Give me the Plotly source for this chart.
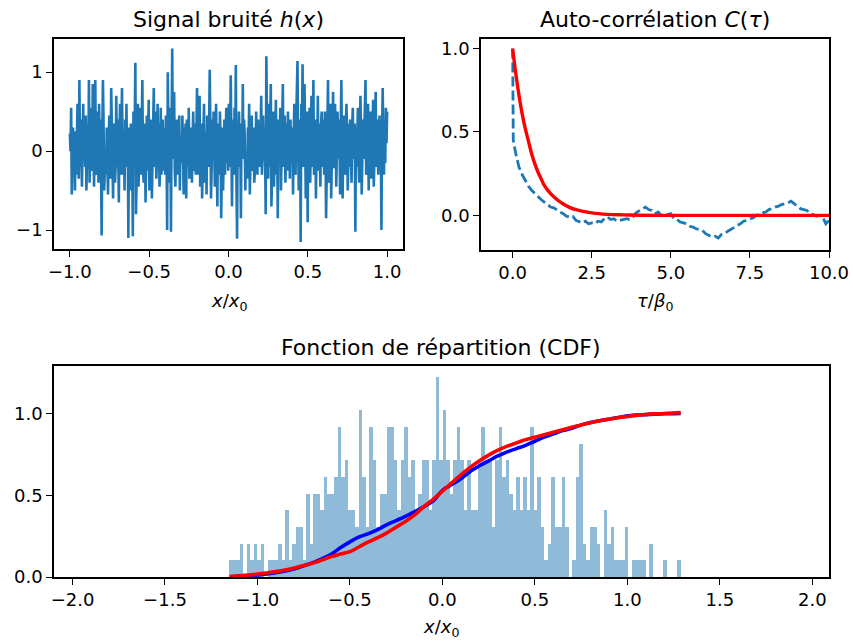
import numpy as np
import plotly.graph_objects as go

# --- signal bruité h(x), x de -1 à 1 ---
signal_h = [
    0.22, 0.0, 0.55, -0.55, -0.1, 0.3, -0.2, 0.1, -0.5, 0.25,
    -0.3, 0.35, 0.6, -0.15, -0.35, 0.9, -0.2, 0.4, -0.35, -0.45,
    0.1, 0.6, -0.1, 0.3, -0.2, 0.45, -0.5, 0.0, 0.35, -0.1,
    0.9, -0.4, 0.3, 0.55, -0.25, -0.2, 0.85, 0.4, -0.45, 0.25,
    0.9, -0.2, -0.3, 0.5, 0.3, -0.4, 0.6, -0.1, 0.4, -0.2,
    -1.07, 0.2, 0.9, 0.35, -0.5, -0.25, 0.0, -0.3, 0.3, -0.1,
    -0.55, 0.1, 0.45, -0.2, -0.35, 0.8, 0.2, -0.35, -0.6, 0.35,
    0.05, -0.4, -0.2, 0.7, -0.2, 0.4, 0.1, -0.65, 0.25, 0.6,
    -0.3, 0.45, 0.8, -0.1, -0.3, 0.25, -0.5, 0.4, 0.0, 0.6,
    -0.2, 0.3, -1.1, 0.3, -0.1, -0.5, 0.35, -0.2, 0.15, -1.08,
    0.5, -0.2, 0.3, 1.12, -0.8, -0.1, 0.3, 0.6, -0.45, -0.2,
    0.1, 0.55, -0.3, 0.25, 0.9, -0.2, -0.4, 0.1, 0.35, -0.65,
    -0.15, 0.45, -0.25, 0.3, 0.65, -0.5, 0.2, 0.0, 0.4, -0.6,
    -0.1, 0.3, 0.8, -0.2, 0.5, 0.15, -0.35, -0.1, 0.6, -0.1,
    0.35, -0.45, -0.2, 0.55, -0.3, 0.0, 0.4, -0.25, 0.3, -0.1,
    -0.3, 0.45, 0.1, -1.0, 1.0, 0.2, -0.4, -0.3, 0.55, -1.02,
    0.3, 1.3, -0.1, 0.2, 0.75, -0.25, -0.45, 0.1, 0.4, -0.3,
    0.25, -0.1, 0.45, -0.5, 0.2, 0.0, -0.15, 0.45, -0.15, -0.55,
    0.3, 0.05, 0.35, -0.6, 0.4, -0.1, -0.2, 0.55, -0.35, 0.2,
    -0.1, 0.3, -0.4, 0.15, 0.5, -0.25, -0.1, 0.35, -0.3, 0.2,
    0.8, -0.3, 0.2, -0.05, 0.7, -0.45, 0.1, 0.35, -0.6, -0.1,
    0.25, 0.6, -0.4, 0.0, 0.25, -0.55, 0.45, -0.1, -0.2, 0.3,
    1.03, 0.3, -0.6, -0.2, 0.4, -0.1, 0.5, 0.05, -0.45, 0.2,
    0.6, -0.2, -0.7, 0.35, -0.1, -0.3, 0.5, 0.2, -0.85, 0.15,
    0.3, -0.5, -0.1, 0.4, -0.3, 0.2, 0.55, -0.15, 0.35, -0.25,
    0.6, -0.2, 0.1, 0.96, -0.1, -0.7, 0.2, 0.4, -0.3, 0.55,
    -0.1, 1.09, -0.4, -1.11, 0.3, 0.1, 0.5, -0.2, 0.25, -0.85,
    0.35, -0.1, 0.85, -0.1, 0.4, 0.2, -0.5, 0.0, -0.2, -0.35,
    0.3, 0.05, 0.6, -0.55, -0.15, 0.3, 0.45, -0.25, 0.1, 0.3,
    -0.4, -0.2, -0.1, 0.5, 0.25, -0.3, 0.4, 0.0, 0.3, -0.2,
    0.2, 0.7, -0.3, -0.1, 0.45, -0.1, 0.3, 0.0, -0.8, 1.2,
    0.4, 0.1, -0.35, 0.6, -0.2, 0.3, 0.85, -0.7, -0.1, 0.3,
    0.5, -0.45, 0.2, -0.05, 0.65, -0.3, 0.2, -0.85, 0.4, -0.1,
    0.3, 0.55, -0.5, -0.1, 0.3, 0.85, -0.2, 0.2, 0.45, -0.4,
    -0.1, 0.35, -0.25, 0.5, 0.0, 0.25, -0.35, 0.4, -0.1, -0.15,
    0.3, -0.55, 0.2, 0.6, -0.2, -0.3, 0.4, 0.8, 1.14, 0.1,
    -0.5, -0.2, 0.4, -1.15, 0.6, 0.2, 1.1, -0.2, 0.5, 0.85,
    0.3, -0.6, -0.1, 0.5, -0.9, 0.25, -0.1, 0.55, -0.4, 0.3,
    0.7, 0.1, -0.2, 0.9, -0.3, -0.2, 0.4, -0.6, 0.1, -0.2,
    0.7, -0.25, 0.35, 0.05, -0.45, 0.3, 0.5, -0.1, -0.2, 0.4,
    -0.3, 0.5, 0.1, -0.85, -0.2, 0.3, 0.9, -0.4, -0.1, 0.35,
    0.6, -0.6, 0.1, 0.3, 0.75, -0.2, -0.2, 0.6, 0.3, -0.45,
    -0.1, 0.5, -0.1, 0.4, 0.2, -0.55, 0.3, 0.9, -0.2, -0.6,
    0.1, 0.45, -0.1, -0.3, 0.3, 0.6, 0.25, -0.5, -0.1, 0.35,
    -0.2, 0.4, 0.0, -0.4, 0.3, 0.55, -0.1, 0.2, 0.35, -1.02,
    0.3, -0.2, 0.1, 0.55, -0.1, -0.4, 0.2, 0.7, 0.2, -0.55,
    -0.1, 0.4, -0.1, 0.3, 0.6, 0.9, -0.3, -0.2, 0.45, 0.6,
    -0.5, 0.2, -0.1, 0.5, -0.35, 0.1, 0.3, 0.65, -0.45, -0.1,
    0.3, 0.75, -0.2, 0.2, 0.4, -0.3, -0.1, 0.45, -0.2, 0.3,
    -1.0, 0.2, 0.8, 0.1, -0.3, 0.4, -0.15, 0.55, 0.1, 0.5,
]
x_signal = np.linspace(-1.0, 1.0, len(signal_h))

# --- auto-corrélation mesurée (tirets) et modèle (rouge) ---
tau_mes = [0.0, 0.02, 0.1, 0.2, 0.3, 0.4, 0.5, 0.6, 0.7, 0.8, 0.9,
           1.0, 1.1, 1.2, 1.3, 1.4, 1.5, 1.6, 1.7, 1.8, 1.9,
           2.0, 2.1, 2.2, 2.3, 2.4, 2.5, 2.6, 2.7, 2.8, 2.9,
           3.0, 3.1, 3.2, 3.3, 3.4, 3.5, 3.6, 3.7, 3.8, 3.9,
           4.0, 4.1, 4.2, 4.3, 4.4, 4.5, 4.6, 4.7, 4.8, 4.9,
           5.0, 5.1, 5.2, 5.3, 5.4, 5.5, 5.6, 5.7, 5.8, 5.9,
           6.0, 6.1, 6.2, 6.3, 6.4, 6.5, 6.6, 6.7, 6.8, 6.9,
           7.0, 7.1, 7.2, 7.3, 7.4, 7.5, 7.6, 7.7, 7.8, 7.9,
           8.0, 8.1, 8.2, 8.3, 8.4, 8.5, 8.6, 8.7, 8.8, 8.9,
           9.0, 9.1, 9.2, 9.3, 9.4, 9.5, 9.6, 9.7, 9.8, 9.9, 10.0]
corr_mes = [1.0, 0.45, 0.37, 0.29, 0.245, 0.205, 0.175, 0.15, 0.13, 0.11, 0.095,
            0.08, 0.065, 0.05, 0.045, 0.03, 0.02, 0.01, -0.005, -0.01, -0.005,
            -0.03, -0.04, -0.045, -0.035, -0.05, -0.045, -0.05, -0.035, -0.04, -0.02,
            -0.01, -0.025, -0.02, -0.035, -0.03, -0.025, -0.02, -0.025, -0.01, 0.015,
            0.03, 0.04, 0.05, 0.035, 0.03, 0.01, 0.02, 0.0, 0.01, 0.005,
            0.01, -0.02, -0.025, -0.04, -0.045, -0.05, -0.065, -0.07, -0.08, -0.085,
            -0.09, -0.11, -0.12, -0.13, -0.125, -0.135, -0.115, -0.11, -0.095, -0.085,
            -0.07, -0.06, -0.05, -0.035, -0.03, -0.02, -0.015, 0.0, 0.005, 0.015,
            0.02, 0.035, 0.04, 0.05, 0.055, 0.065, 0.07, 0.075, 0.085, 0.07,
            0.06, 0.04, 0.035, 0.03, 0.01, 0.005, -0.005, 0.0, -0.01, -0.05, -0.03]
tau_mod = [0.0, 0.1, 0.2, 0.3, 0.4, 0.5, 0.6, 0.7, 0.8, 0.9, 1.0, 1.2, 1.4,
           1.6, 1.8, 2.0, 2.5, 3.0, 3.5, 4.0, 5.0, 6.0, 7.0, 8.0, 9.0, 10.0]
corr_mod = [1.0, 0.85, 0.72, 0.61, 0.52, 0.445, 0.37, 0.31, 0.26, 0.22, 0.18, 0.13, 0.095,
            0.068, 0.048, 0.034, 0.015, 0.006, 0.003, 0.001, 0.0, 0.0, 0.0, 0.0, 0.0, 0.0]

# --- histogramme (comptes par classe) et fonctions de répartition ---
hist_min, hist_max = -1.153, 1.288
hist_counts = [
    1, 1, 1, 2, 0, 2, 1, 2, 1, 2, 0, 1, 1, 1, 2, 1, 4, 1, 2, 3,
    3, 1, 5, 2, 5, 5, 4, 6, 5, 5, 6, 9, 6, 7, 4, 4, 3, 10, 6, 3,
    9, 7, 3, 5, 5, 9, 9, 7, 4, 7, 9, 6, 7, 4, 5, 7, 7, 4, 7, 12,
    7, 10, 7, 5, 7, 9, 7, 4, 7, 4, 4, 7, 9, 7, 7, 3, 7, 9, 6, 7,
    5, 4, 6, 4, 6, 4, 9, 4, 6, 3, 1, 2, 6, 3, 3, 6, 3, 0, 1, 6,
    8, 2, 1, 3, 3, 2, 0, 4, 2, 3, 1, 1, 1, 3, 0, 1, 1, 1, 1, 0,
    2, 0, 0, 0, 1, 0, 0, 0, 1,
]
cdf_x = [-1.15, -1.1, -1.05, -1.0, -0.95, -0.9, -0.85, -0.8, -0.75, -0.7, -0.65,
         -0.6, -0.55, -0.5, -0.45, -0.4, -0.35, -0.3, -0.25, -0.2, -0.15, -0.1,
         -0.05, 0.0, 0.05, 0.1, 0.15, 0.2, 0.25, 0.3, 0.35, 0.4, 0.45, 0.5,
         0.55, 0.6, 0.65, 0.7, 0.75, 0.8, 0.85, 0.9, 0.95, 1.0, 1.05, 1.1,
         1.15, 1.2, 1.25, 1.288]
cdf_emp = [0.0, 0.004, 0.008, 0.013, 0.018, 0.026, 0.036, 0.05, 0.068, 0.088, 0.112,
           0.14, 0.18, 0.215, 0.245, 0.265, 0.29, 0.32, 0.345, 0.37, 0.40, 0.43,
           0.465, 0.53, 0.565, 0.60, 0.645, 0.68, 0.71, 0.74, 0.765, 0.785, 0.805, 0.83,
           0.855, 0.875, 0.895, 0.91, 0.93, 0.945, 0.955, 0.965, 0.975, 0.985, 0.99, 0.993,
           0.996, 0.998, 0.999, 1.0]
cdf_mod = [0.003, 0.007, 0.012, 0.018, 0.025, 0.033, 0.043, 0.055, 0.07, 0.085, 0.105,
           0.125, 0.14, 0.155, 0.185, 0.215, 0.24, 0.27, 0.305, 0.34, 0.38, 0.43,
           0.475, 0.525, 0.575, 0.625, 0.67, 0.71, 0.745, 0.775, 0.80, 0.82, 0.84, 0.855,
           0.87, 0.885, 0.9, 0.915, 0.93, 0.943, 0.955, 0.965, 0.974, 0.982, 0.988, 0.993,
           0.997, 1.0, 1.003, 1.005]

W, H = 853, 641
C0 = "#1f77b4"
FONT = "DejaVu Sans"
MINUS = "\u2212"


def px_x(p):
    return p / W


def px_y(p):
    return 1 - p / H


def fmt(v, nd):
    s = f"{abs(v):.{nd}f}"
    return (MINUS + s) if v < 0 else s


bw = (hist_max - hist_min) / len(hist_counts)
edges = hist_min + bw * np.arange(len(hist_counts))
density = np.array(hist_counts) / (sum(hist_counts) * bw)

fig = go.Figure()
fig.add_trace(go.Scatter(x=x_signal, y=signal_h, mode="lines",
                         line=dict(color=C0, width=2.6), xaxis="x", yaxis="y"))
fig.add_trace(go.Scatter(x=tau_mes, y=corr_mes, mode="lines",
                         line=dict(color=C0, width=2.8, dash="10px,4px"),
                         xaxis="x2", yaxis="y2"))
fig.add_trace(go.Scatter(x=tau_mod, y=corr_mod, mode="lines", line_shape="spline",
                         line=dict(color="red", width=3.4), xaxis="x2", yaxis="y2"))
fig.add_trace(go.Bar(x=edges + bw / 2, y=density, width=bw,
                     marker=dict(color=C0, opacity=0.5, line_width=0),
                     xaxis="x3", yaxis="y3"))
fig.add_trace(go.Scatter(x=cdf_x, y=cdf_emp, mode="lines", line_shape="spline",
                         line=dict(color="blue", width=3.6), xaxis="x3", yaxis="y3"))
fig.add_trace(go.Scatter(x=cdf_x, y=cdf_mod, mode="lines", line_shape="spline",
                         line=dict(color="red", width=3.6), xaxis="x3", yaxis="y3"))

axis_common = dict(showline=True, mirror=True, linecolor="black", linewidth=1.5,
                   ticks="outside", ticklen=6, tickwidth=1.4, tickcolor="black",
                   showgrid=False, zeroline=False, automargin=False,
                   tickfont=dict(family=FONT, size=18, color="black"))

ticks1x = [-1.0, -0.5, 0.0, 0.5, 1.0]
ticks1y = [-1, 0, 1]
ticks2x = [0.0, 2.5, 5.0, 7.5, 10.0]
ticks2y = [0.0, 0.5, 1.0]
ticks3x = [-2.0, -1.5, -1.0, -0.5, 0.0, 0.5, 1.0, 1.5, 2.0]
ticks3y = [0.0, 0.5, 1.0]

fig.update_layout(
    width=W, height=H, margin=dict(l=0, r=0, t=0, b=0),
    paper_bgcolor="white", plot_bgcolor="white", showlegend=False,
    bargap=0,
    xaxis=dict(axis_common, domain=[px_x(54), px_x(403)], range=[-1.1, 1.1],
               tickvals=ticks1x, ticktext=[fmt(v, 1) for v in ticks1x], anchor="y"),
    yaxis=dict(axis_common, domain=[px_y(249), px_y(39)], range=[-1.24, 1.42],
               tickvals=ticks1y, ticktext=[fmt(v, 0) for v in ticks1y], anchor="x"),
    xaxis2=dict(axis_common, domain=[px_x(481), px_x(829)], range=[-1.0, 10.0],
                tickvals=ticks2x, ticktext=[fmt(v, 1) for v in ticks2x], anchor="y2"),
    yaxis2=dict(axis_common, domain=[px_y(250), px_y(39)], range=[-0.2075, 1.0575],
                tickvals=ticks2y, ticktext=[fmt(v, 1) for v in ticks2y], anchor="x2"),
    xaxis3=dict(axis_common, domain=[px_x(54), px_x(829)], range=[-2.1, 2.09],
                tickvals=ticks3x, ticktext=[fmt(v, 1) for v in ticks3x], anchor="y3"),
    yaxis3=dict(axis_common, domain=[px_y(577), px_y(366)], range=[0, 1.29],
                tickvals=ticks3y, ticktext=[fmt(v, 1) for v in ticks3y], anchor="x3"),
)

texts = [
    ("Signal bruité <i>h</i>(<i>x</i>)", 228.5, 19, 22),
    ("Auto-corrélation <i>C</i>(<i>τ</i>)", 655, 19, 22),
    ("Fonction de répartition (CDF)", 441.5, 347, 22),
    ("<i>x</i>/<i>x</i><sub>0</sub>", 228.5, 302, 18),
    ("<i>τ</i>/<i>β</i><sub>0</sub>", 655, 302, 18),
    ("<i>x</i>/<i>x</i><sub>0</sub>", 441.5, 628, 18),
]
for txt, cx, cy, size in texts:
    fig.add_annotation(text=txt, x=px_x(cx), y=px_y(cy), xref="paper", yref="paper",
                       xanchor="center", yanchor="middle", showarrow=False,
                       font=dict(family=FONT, size=size, color="black"))

# la page a une marge de 8 px par défaut : on la retire
fig.write_html("out.html", config={"displayModeBar": False},
               post_script="document.body.style.margin='0px';")
